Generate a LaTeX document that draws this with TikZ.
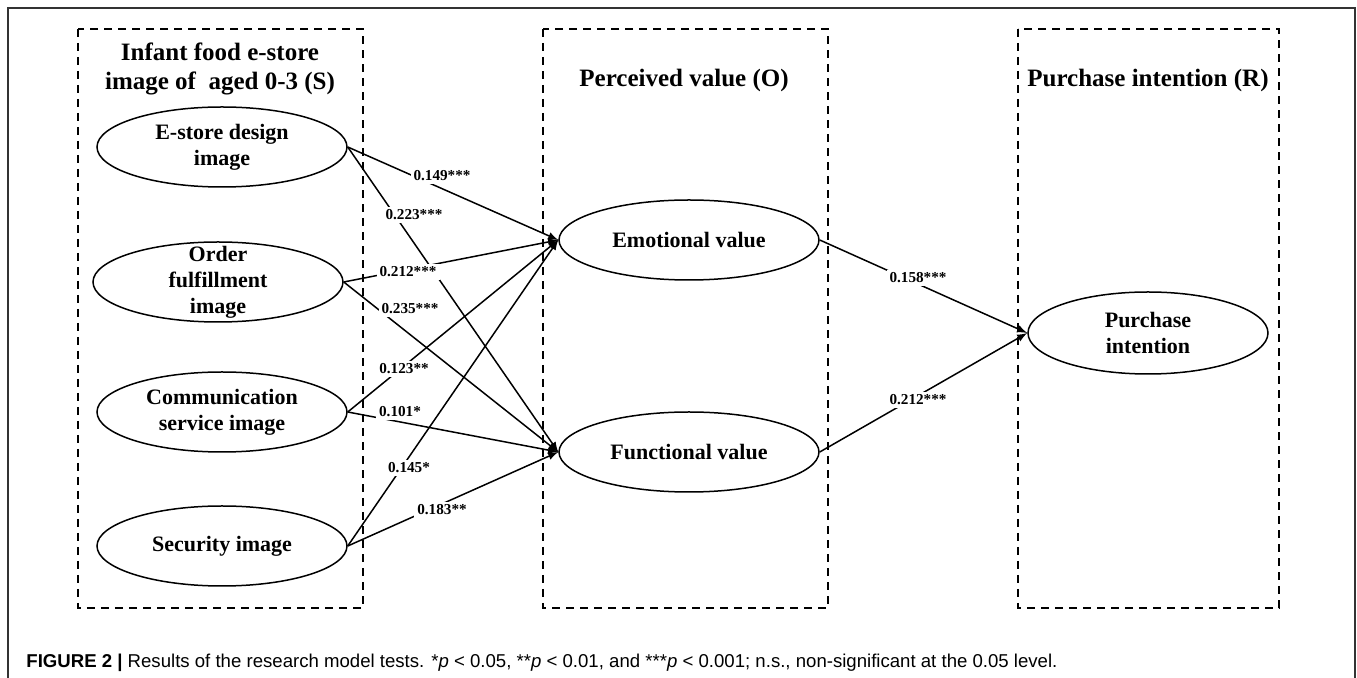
\documentclass[tikz,border=0pt]{standalone}
\usepackage{fontspec}
\setmainfont{Liberation Serif}
\newfontfamily\capfont{Liberation Sans}
\usetikzlibrary{shapes.geometric}

\tikzset{
	groupbox/.style={draw, line width=0.75pt, dash pattern=on 4pt off 3pt},
	grouptitle/.style={align=center, font=\bfseries\fontsize{12.5}{14.5}\selectfont},
	construct/.style={ellipse, draw, line width=0.75pt, inner sep=0pt, align=center,
		minimum width=125pt, minimum height=40pt, font=\bfseries\fontsize{11}{13}\selectfont},
	effect/.style={->, >=latex, line width=0.75pt},
	coef/.style={fill=white, inner sep=1.5pt, font=\bfseries\fontsize{7.6}{9}\selectfont},
}

\begin{document}
\begin{tikzpicture}[x=0.5pt, y=-0.5pt]
	\useasboundingbox (0,0) rectangle (1357,678);
	% frame
	\draw[line width=0.8pt, black!80] (8,678) -- (8,8) -- (1355,8) -- (1355,678);

	% S-O-R groups
	\draw[groupbox] (78,29) rectangle (363,608);
	\draw[groupbox] (543,29) rectangle (828,608);
	\draw[groupbox] (1018,29) rectangle (1279,608);
	\node[grouptitle] (tS) at (220,69) {Infant food e-store\\image of\ \ aged 0-3 (S)};
	\node[grouptitle] (tO) at (684,80) {Perceived value (O)};
	\node[grouptitle] (tR) at (1148,80) {Purchase intention (R)};

	% stimulus
	\node[construct] (es) at (222,147) {E-store design\\image};
	\node[construct, inner ysep=-8pt] (of) at (218,282) {Order\\fulfillment\\image};
	\node[construct] (cs) at (222,412) {Communication\\service image};
	\node[construct] (si) at (222,546) {Security image};

	% organism and response
	\node[construct, minimum width=130pt] (ev) at (689,240) {Emotional value};
	\node[construct, minimum width=130pt] (fv) at (689,452) {Functional value};
	\node[construct, minimum width=120pt, minimum height=41pt] (pi) at (1148,333) {Purchase\\intention};

	% paths
	\draw[effect] (es.east) -- (ev.west);
	\draw[effect] (es.east) -- (fv.west);
	\draw[effect] (of.east) -- (ev.west);
	\draw[effect] (of.east) -- (fv.west);
	\draw[effect] (cs.east) -- (ev.west);
	\draw[effect] (cs.east) -- (fv.west);
	\draw[effect] (si.east) -- (ev.west);
	\draw[effect] (si.east) -- (fv.west);
	\draw[effect] (ev.east) -- (pi.west);
	\draw[effect] (fv.east) -- (pi.west);

	% coefficients
	\node[coef] (c149) at (442,176) {0.149***};
	\node[coef] (c223) at (414,215) {0.223***};
	\node[coef] (c212a) at (408,272) {0.212***};
	\node[coef] (c235) at (410,309) {0.235***};
	\node[coef] (c123) at (404,369) {0.123**};
	\node[coef] (c101) at (400,412) {0.101*};
	\node[coef] (c145) at (409,468) {0.145*};
	\node[coef] (c183) at (442,510) {0.183**};
	\node[coef] (c158) at (918,278) {0.158***};
	\node[coef] (c212b) at (918,400) {0.212***};

	% caption
	\node[anchor=base west, inner sep=0pt, font=\capfont\fontsize{9.3}{11}\selectfont] (cap) at (26,668)
		{\textbf{FIGURE 2 |} Results of the research model tests. *\textit{p} < 0.05, **\textit{p} < 0.01, and ***\textit{p} < 0.001; n.s., non-significant at the 0.05 level.};
\end{tikzpicture}
\end{document}
